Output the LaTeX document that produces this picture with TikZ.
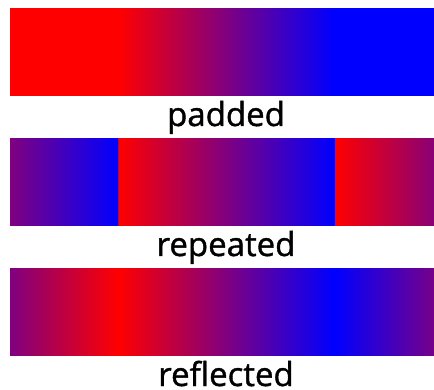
\documentclass[tikz,border=0pt]{standalone}
\usepackage{fontspec}
\setmainfont[FakeBold=1.2]{Open Sans}
\pgfdeclarehorizontalshading{padshade}{100bp}{%
  rgb(0bp)=(1,0,0); rgb(37.5bp)=(1,0,0); rgb(62.5bp)=(0,0,1); rgb(100bp)=(0,0,1)}
\pgfdeclarehorizontalshading{repshade}{100bp}{%
  rgb(0bp)=(0,0,1); rgb(12.49bp)=(0,0,1); rgb(12.5bp)=(1,0,0);
  rgb(37.49bp)=(0,0,1); rgb(37.5bp)=(1,0,0);
  rgb(62.49bp)=(0,0,1); rgb(62.5bp)=(1,0,0);
  rgb(87.49bp)=(0,0,1); rgb(87.5bp)=(1,0,0); rgb(100bp)=(0.5,0,0.5)}
\pgfdeclarehorizontalshading{refshade}{100bp}{%
  rgb(0bp)=(0.5,0,0.5); rgb(12.5bp)=(0,0,1); rgb(37.5bp)=(1,0,0);
  rgb(62.5bp)=(0,0,1); rgb(87.5bp)=(1,0,0); rgb(100bp)=(0.5,0,0.5)}
\tikzset{
  lbl/.style={anchor=base, inner sep=0pt, font=\fontsize{33}{40}\selectfont, text=black},
  bar/.style={draw=none},
}
\begin{document}
\begin{tikzpicture}[x=1pt,y=-1pt]
\useasboundingbox (0,0) rectangle (434,390);
\begin{scope}
\clip (0,0) rectangle (434,390);
\shade[bar,shading=padshade] (10,9) rectangle (442,95.5);
\shade[bar,shading=repshade] (10,139) rectangle (442,225.5);
\shade[bar,shading=refshade] (10,269) rectangle (442,355.5);
\end{scope}
\node[lbl] (l1) at (226,126) {padded};
\node[lbl] (l2) at (226,256) {repeated};
\node[lbl] (l3) at (226,386) {reflected};
\end{tikzpicture}
\end{document}
